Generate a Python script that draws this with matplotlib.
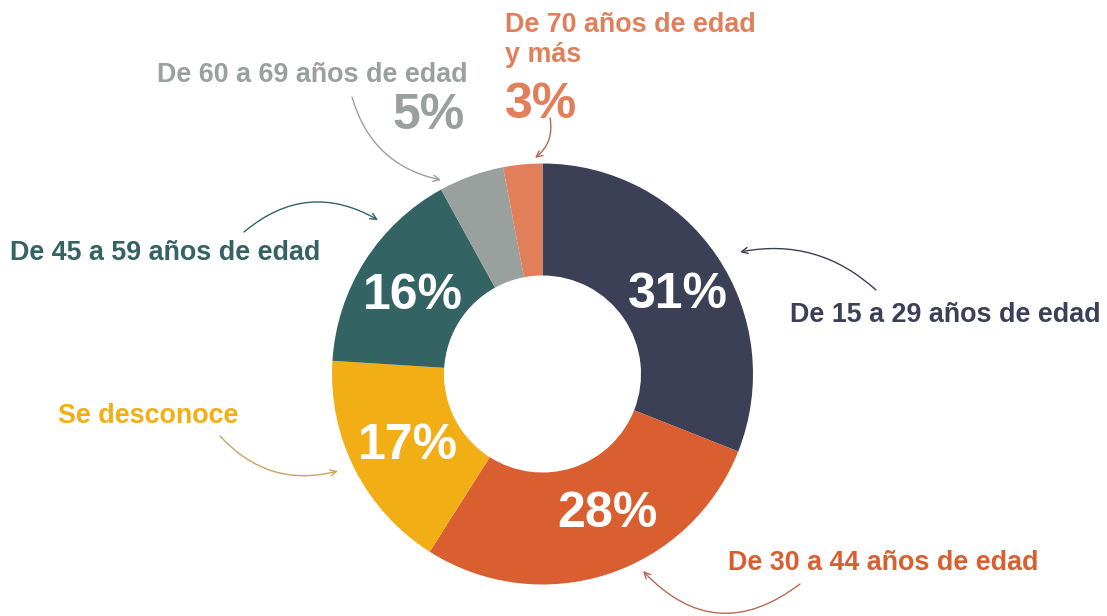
import matplotlib
matplotlib.use("Agg")
import matplotlib.pyplot as plt

categories = ["De 15 a 29 años de edad", "De 30 a 44 años de edad", "Se desconoce",
              "De 45 a 59 años de edad", "De 60 a 69 años de edad", "De 70 años de edad\ny más"]
values = [31, 28, 17, 16, 5, 3]
pct_labels = ["31%", "28%", "17%", "16%", "5%", "3%"]
colors = ["#3b4057", "#d95f30", "#f1ae15", "#346363", "#9aa09d", "#e27f5b"]
arrow_colors = ["#3b4057", "#b86a55", "#c9a460", "#346363", "#9aa09d", "#b86a55"]

W, H = 1107, 616
fig = plt.figure(figsize=(W / 100, H / 100), dpi=100)
ax = fig.add_axes([0, 0, 1, 1])
ax.set_xlim(0, W)
ax.set_ylim(0, H)
ax.set_aspect("equal")
ax.axis("off")

def Y(y):
    return H - y

cx, cy, R = 542.5, Y(374), 210.5
ax.pie(values, colors=colors, startangle=90, counterclock=False,
       center=(cx, cy), radius=R, wedgeprops=dict(width=112, linewidth=0))
ax.set_xlim(0, W)
ax.set_ylim(0, H)

FONT = "Liberation Sans"

# inside percentages (first four slices)
inside_pos = [(678, 308), (607, 527), (408, 459), (413, 309)]
for i, (x, y) in enumerate(inside_pos):
    ax.text(x, Y(y), pct_labels[i], color="white", fontsize=36, fontweight="bold",
            family=FONT, ha="center", va="baseline")

# category labels
lab_fs = 19.4
ax.text(790, Y(322), categories[0], color=colors[0], fontsize=lab_fs, fontweight="bold",
        family=FONT, ha="left", va="baseline")
ax.text(728, Y(570), categories[1], color=colors[1], fontsize=lab_fs, fontweight="bold",
        family=FONT, ha="left", va="baseline")
ax.text(58, Y(423), categories[2], color=colors[2], fontsize=lab_fs, fontweight="bold",
        family=FONT, ha="left", va="baseline")
ax.text(10, Y(260), categories[3], color=colors[3], fontsize=lab_fs, fontweight="bold",
        family=FONT, ha="left", va="baseline")
ax.text(157, Y(82), categories[4], color=colors[4], fontsize=lab_fs, fontweight="bold",
        family=FONT, ha="left", va="baseline")
l1, l2 = categories[5].split("\n")
ax.text(505, Y(32), l1, color=colors[5], fontsize=lab_fs, fontweight="bold",
        family=FONT, ha="left", va="baseline")
ax.text(505, Y(62), l2, color=colors[5], fontsize=lab_fs, fontweight="bold",
        family=FONT, ha="left", va="baseline")

# outside percentages
ax.text(465, Y(129), pct_labels[4], color=colors[4], fontsize=36, fontweight="bold",
        family=FONT, ha="right", va="baseline")
ax.text(505, Y(118), pct_labels[5], color=colors[5], fontsize=36, fontweight="bold",
        family=FONT, ha="left", va="baseline")

# arrows: (start, end, rad)
arrows = [
    ((876, 290), (740, 252), 0.25),
    ((800, 584), (643, 571), -0.45),
    ((220, 436), (338, 471), 0.3),
    ((244, 232), (378, 220), -0.35),
    ((352, 97), (441, 180), 0.3),
    ((550, 118), (535, 158), -0.3),
]
for i, ((x0, y0), (x1, y1), rad) in enumerate(arrows):
    ax.annotate("", xy=(x1, Y(y1)), xytext=(x0, Y(y0)),
                arrowprops=dict(arrowstyle="->,head_length=0.45,head_width=0.22",
                                color=arrow_colors[i], lw=1.0,
                                connectionstyle=f"arc3,rad={rad}",
                                shrinkA=0, shrinkB=0))

fig.savefig("out.png", dpi=100, facecolor="white")
